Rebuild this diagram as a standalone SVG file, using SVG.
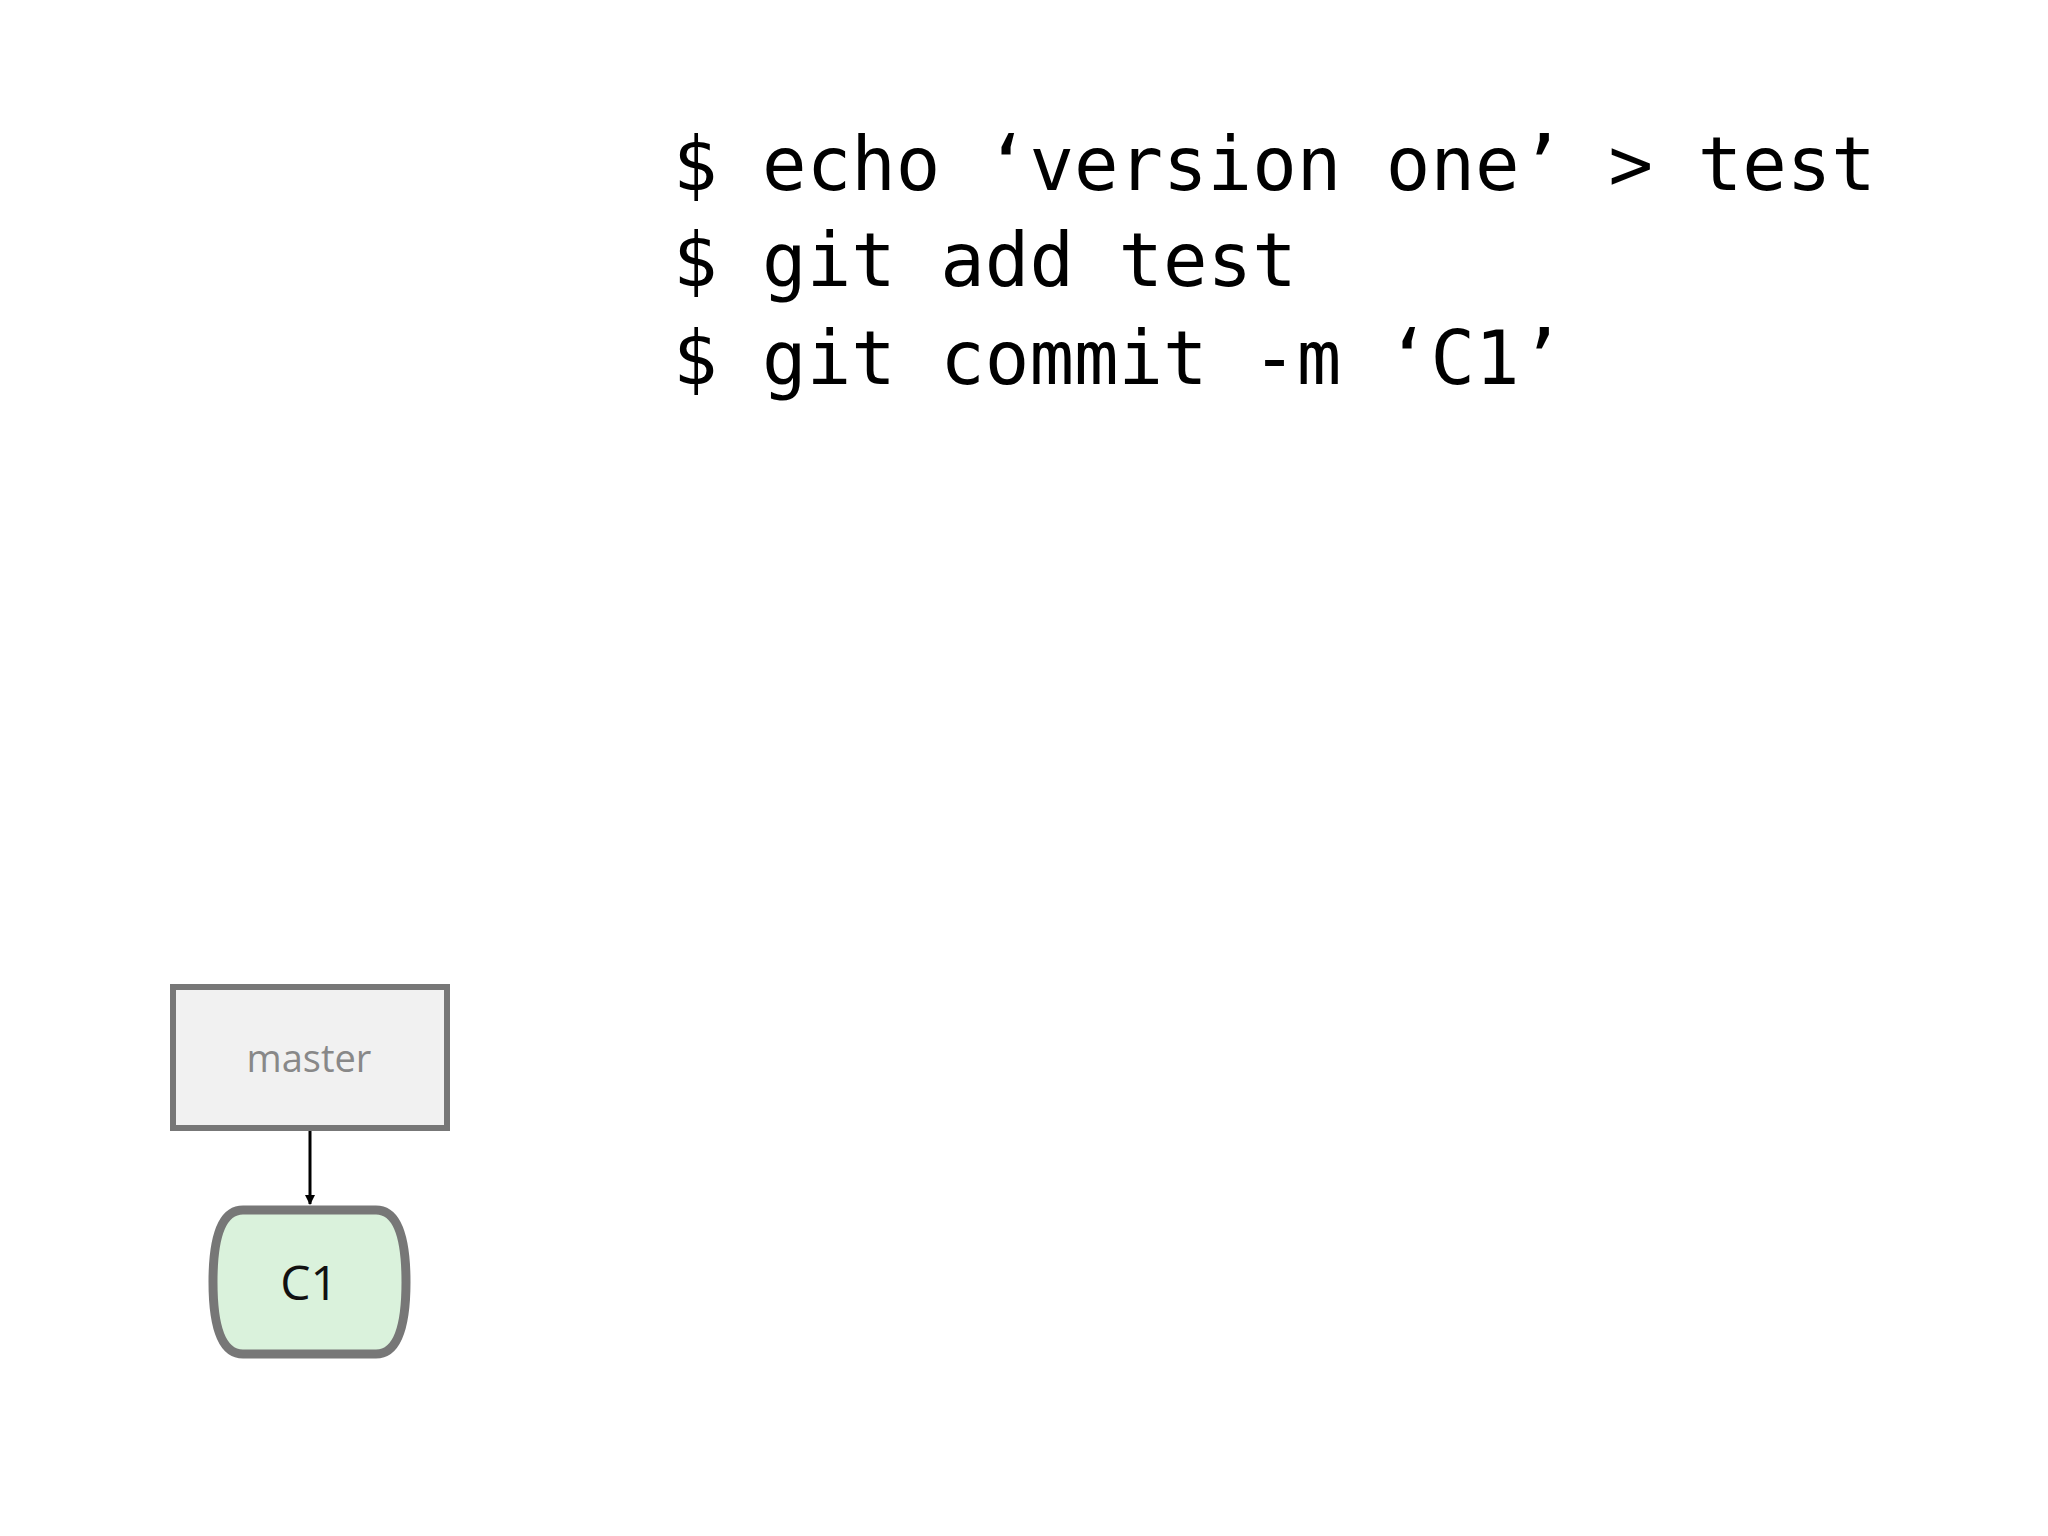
<svg xmlns="http://www.w3.org/2000/svg" width="2048" height="1536" viewBox="0 0 2048 1536">
<style>
.cmd{font-family:"DejaVu Sans Mono","Liberation Mono",monospace;font-size:74px;fill:#000}
.lbl{font-family:"Open Sans","Liberation Sans",sans-serif;text-anchor:middle}
</style>
<defs><marker id="ah" markerWidth="10" markerHeight="10" refX="9" refY="5" orient="auto" markerUnits="userSpaceOnUse" viewBox="0 0 10 10"><path d="M0,0 L10,5 L0,10 z" fill="#000"/></marker></defs>
<rect width="2048" height="1536" fill="#fff"/>
<g id="commands">
<text class="cmd" x="673" y="190">$ echo ‘version one’ &gt; test</text>
<text class="cmd" x="673" y="286">$ git add test</text>
<text class="cmd" x="673" y="384">$ git commit -m ‘C1’</text>
</g>
<g id="master"><rect x="173" y="987" width="274" height="141" fill="#f1f1f1" stroke="#777" stroke-width="6"/>
<text class="lbl" x="309" y="1072" font-size="38" fill="#888">master</text></g>
<g id="C1"><path d="M243,1210 H376 Q406,1210 406,1282 Q406,1354 376,1354 H243 Q213,1354 213,1282 Q213,1210 243,1210 Z" fill="#daf2dc" stroke="#777" stroke-width="9"/>
<text class="lbl" x="309" y="1300" font-size="48" fill="#111">C1</text></g>
<g id="connectors"><line x1="310" y1="1131" x2="310" y2="1204" stroke="#000" stroke-width="3" marker-end="url(#ah)"/></g>
</svg>
